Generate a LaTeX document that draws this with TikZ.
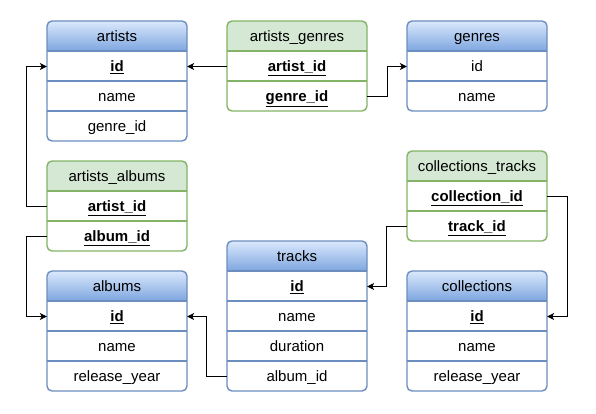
\documentclass[tikz,border=0pt]{standalone}
\usepackage{fontspec}
\setmainfont{Liberation Sans}
\usetikzlibrary{arrows.meta}
\definecolor{bluestroke}{HTML}{6C8EBF}
\definecolor{bluetop}{HTML}{DAE8FC}
\definecolor{bluebot}{HTML}{7EA6E0}
\definecolor{greenstroke}{HTML}{82B366}
\definecolor{greenfill}{HTML}{D5E8D4}
\tikzset{
  row/.style={rectangle, minimum width=140pt, minimum height=30pt, inner sep=0pt,
    text height=12.5pt, text depth=2.5pt,
    font=\fontsize{15}{18}\selectfont, text=black},
  title/.style={row},
  conn/.style={draw=black, line width=0.9pt, -{Stealth[length=7pt,width=7pt,inset=2pt]}},
}
% \ertable{x}{y top}{rows}{stroke}{topcolor}{bottomcolor}
\newcommand\ertable[6]{%
  \pgfmathsetmacro\tbH{30*(#3+1)}%
  \begin{scope}
    \clip[rounded corners=5pt] (#1,#2) rectangle ++(140,\tbH);
    \fill[white] (#1,#2) rectangle ++(140,\tbH);
    \shade[top color=#5, bottom color=#6] (#1,#2) rectangle ++(140,30);
  \end{scope}
  \foreach \k in {1,...,#3} {\draw[#4, line width=1.4pt] (#1,#2+30*\k) -- ++(140,0);}
  \draw[#4, line width=1.4pt, rounded corners=5pt] (#1,#2) rectangle ++(140,\tbH);
}
\newcommand\key[1]{\textbf{\underline{#1}}}
\begin{document}
\begin{tikzpicture}[x=1pt,y=-1pt]
\useasboundingbox (0,0) rectangle (596,413);
% backgrounds
\ertable{47}{21}{3}{bluestroke}{bluetop}{bluebot}
\ertable{227}{21}{2}{greenstroke}{greenfill}{greenfill}
\ertable{407}{21}{2}{bluestroke}{bluetop}{bluebot}
\ertable{47}{161}{2}{greenstroke}{greenfill}{greenfill}
\ertable{407}{151}{2}{greenstroke}{greenfill}{greenfill}
\ertable{47}{271}{3}{bluestroke}{bluetop}{bluebot}
\ertable{227}{241}{4}{bluestroke}{bluetop}{bluebot}
\ertable{407}{271}{3}{bluestroke}{bluetop}{bluebot}
% artists
\node[title] (artists) at (117,36.5) {artists};
\node[row] (artists-id) at (117,66.5) {\key{id}};
\node[row] (artists-name) at (117,96.5) {name};
\node[row] (artists-genre) at (117,126.5) {genre\_id};
% artists_genres
\node[title] (ag) at (297,36.5) {artists\_genres};
\node[row] (ag-artist) at (297,66.5) {\key{artist\_id}};
\node[row] (ag-genre) at (297,96.5) {\key{genre\_id}};
% genres
\node[title] (genres) at (477,36.5) {genres};
\node[row] (genres-id) at (477,66.5) {id};
\node[row] (genres-name) at (477,96.5) {name};
% artists_albums
\node[title] (aa) at (117,176.5) {artists\_albums};
\node[row] (aa-artist) at (117,206.5) {\key{artist\_id}};
\node[row] (aa-album) at (117,236.5) {\key{album\_id}};
% collections_tracks
\node[title] (ct) at (477,166.5) {collections\_tracks};
\node[row] (ct-coll) at (477,196.5) {\key{collection\_id}};
\node[row] (ct-track) at (477,226.5) {\key{track\_id}};
% albums
\node[title] (albums) at (117,286.5) {albums};
\node[row] (albums-id) at (117,316.5) {\key{id}};
\node[row] (albums-name) at (117,346.5) {name};
\node[row] (albums-year) at (117,376.5) {release\_year};
% tracks
\node[title] (tracks) at (297,256.5) {tracks};
\node[row] (tracks-id) at (297,286.5) {\key{id}};
\node[row] (tracks-name) at (297,316.5) {name};
\node[row] (tracks-dur) at (297,346.5) {duration};
\node[row] (tracks-album) at (297,376.5) {album\_id};
% collections
\node[title] (collections) at (477,286.5) {collections};
\node[row] (coll-id) at (477,316.5) {\key{id}};
\node[row] (coll-name) at (477,346.5) {name};
\node[row] (coll-year) at (477,376.5) {release\_year};
% connectors
\draw[conn] (ag-artist.west) -- (artists-id.east);
\draw[conn] (ag-genre.east) -- ++(20,0) |- (genres-id.west);
\draw[conn] (aa-artist.west) -- ++(-20,0) |- (artists-id.west);
\draw[conn] (aa-album.west) -- ++(-20,0) |- (albums-id.west);
\draw[conn] (tracks-album.west) -- ++(-20,0) |- (albums-id.east);
\draw[conn] (ct-track.west) -- ++(-20,0) |- (tracks-id.east);
\draw[conn] (ct-coll.east) -- ++(20,0) |- (coll-id.east);
\end{tikzpicture}
\end{document}
